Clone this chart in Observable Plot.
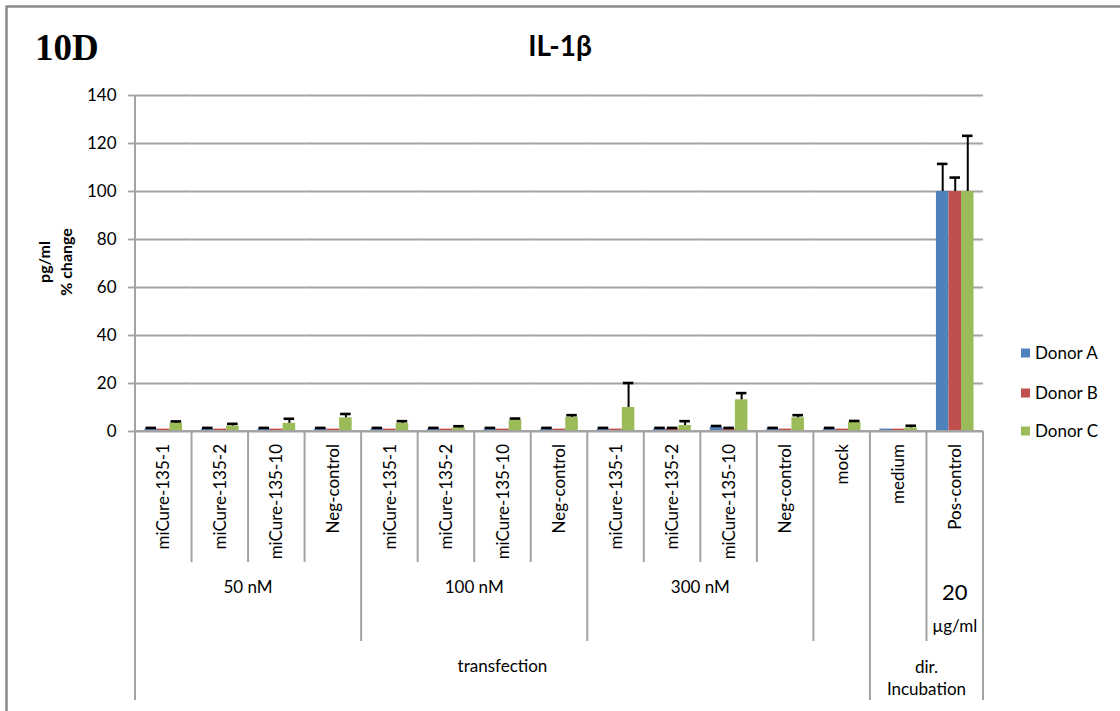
<!DOCTYPE html>
<html>
<head>
<meta charset="utf-8">
<script src="https://cdn.jsdelivr.net/npm/d3@7"></script>
<script src="https://cdn.jsdelivr.net/npm/@observablehq/plot@0.6"></script>
<style>
  html, body { margin: 0; padding: 0; background: white; }
  svg { display: block; }
</style>
</head>
<body>
<div id="chart"></div>
<script>
// ---- data ----
const categories = ["miCure-135-1","miCure-135-2","miCure-135-10","Neg-control",
                    "miCure-135-1","miCure-135-2","miCure-135-10","Neg-control",
                    "miCure-135-1","miCure-135-2","miCure-135-10","Neg-control",
                    "mock","medium","Pos-control"];
const level2 = ["50 nM","50 nM","50 nM","50 nM",
                "100 nM","100 nM","100 nM","100 nM",
                "300 nM","300 nM","300 nM","300 nM",
                "", "", "20\nµg/ml"];
const level3 = ["transfection","transfection","transfection","transfection",
                "transfection","transfection","transfection","transfection",
                "transfection","transfection","transfection","transfection",
                "transfection","dir.\nIncubation","dir.\nIncubation"];
const donors = ["Donor A","Donor B","Donor C"];
const donorColors = ["#4f81bd","#c0504d","#9bbb59"];
const donorA = [1,1,1,1, 1,1,1,1, 1,1,1.8,1, 1,1,100];
const errA   = [0.5,0.5,0.5,0.5, 0.5,0.5,0.5,0.5, 0.5,0.5,0.5,0.5, 0.5,0,11.5];
const donorB = [1,1,1,1, 1,1,1,1, 1,1,1,1, 1,1,100];
const errB   = [0,0,0,0, 0,0,0,0, 0,0.5,0.5,0, 0,0,5.8];
const donorC = [3.5,2.3,3.4,5.7, 3.4,1.5,4.8,5.9, 10,2.5,13.2,5.7, 3.8,1.5,100];
const errC   = [0.7,0.9,1.9,1.6, 0.9,0.7,0.6,0.9, 10.2,1.8,2.8,1.1, 0.6,0.9,23.2];
const yTicks = [0,20,40,60,80,100,120,140];

// ---- table ----
const ids = categories.map((_, i) => i);
const series = [[donorA, errA], [donorB, errB], [donorC, errC]];
const rows = [];
ids.forEach(i => donors.forEach((d, k) => {
  rows.push({i, donor: d, value: series[k][0][i], err: series[k][1][i], hi: series[k][0][i] + series[k][1][i]});
}));
const errRows = rows.filter(r => r.err > 0);

const FONT = "Lato, 'Noto Sans', 'DejaVu Sans', sans-serif";
const GRID = "#a3a3a3";

const plot = Plot.plot({
  width: 1120, height: 711,
  marginTop: 95, marginBottom: 280, marginLeft: 135, marginRight: 137,
  style: {fontFamily: FONT, fontSize: "17px", background: "white", overflow: "visible", color: "black"},
  fx: {domain: ids, padding: 0, round: false, axis: null},
  x: {domain: donors, paddingInner: 0, paddingOuter: 0.754, round: false, axis: null},
  y: {domain: [0, 140], axis: null},
  color: {domain: donors, range: donorColors},
  marks: [
    Plot.ruleY(yTicks, {stroke: GRID, strokeWidth: 1.8}),
    Plot.barY(rows, {fx: "i", x: "donor", y: "value", fill: "donor"}),
    Plot.ruleX(errRows, {fx: "i", x: "donor", y1: "value", y2: "hi", stroke: "black", strokeWidth: 2}),
    Plot.tickY(errRows, {fx: "i", x: "donor", y: "hi", stroke: "black", strokeWidth: 2.6, inset: 1}),
    Plot.axisY(yTicks, {tickSize: 7, tickPadding: 12, fontSize: 17, stroke: GRID, strokeWidth: 1.8, fill: "black", label: null, tickFormat: d => String(d)})
  ]
});
document.getElementById("chart").appendChild(plot);

// ---- decorations via the library's scales ----
const svg = d3.select(plot);
const fxScale = plot.scale("fx");
const yScale = plot.scale("y");
const bw = fxScale.bandwidth;
const bandStart = i => fxScale.apply(ids[i]);
const yBase = yScale.apply(0);
const yTop = yScale.apply(140);
const xLeft = bandStart(0), xRight = bandStart(ids.length - 1) + bw;
const depth1 = 562, depth2 = 641, depth3 = 700;

const g = svg.append("g").attr("font-family", FONT).attr("fill", "black");

// y axis line + x axis line
g.append("line").attr("x1", xLeft).attr("x2", xLeft).attr("y1", yTop).attr("y2", depth3)
  .attr("stroke", GRID).attr("stroke-width", 2);
g.append("line").attr("x1", xLeft).attr("x2", xRight).attr("y1", yBase).attr("y2", yBase)
  .attr("stroke", GRID).attr("stroke-width", 2);

// separators
for (let b = 0; b <= ids.length; b++) {
  const x = b === ids.length ? xRight : bandStart(b);
  let y2;
  if (b === 0 || b === ids.length || level3[b - 1] !== level3[b]) y2 = depth3;
  else if (level2[b - 1] !== level2[b]) y2 = depth2;
  else y2 = depth1;
  g.append("line").attr("x1", x).attr("x2", x).attr("y1", yBase).attr("y2", y2)
    .attr("stroke", GRID).attr("stroke-width", 2);
}

// level 1 labels
ids.forEach(i => {
  const cx = bandStart(i) + bw / 2;
  g.append("text").attr("transform", `translate(${cx},${yBase + 13}) rotate(-90)`)
    .attr("text-anchor", "end").attr("dy", "0.36em").attr("font-size", 17)
    .text(categories[i]);
});

// runs helper
function runs(arr) {
  const out = [];
  let s = 0;
  for (let i = 1; i <= arr.length; i++) {
    if (i === arr.length || arr[i] !== arr[s]) { out.push({label: arr[s], a: s, b: i - 1}); s = i; }
  }
  return out;
}
// level 2 labels
runs(level2).forEach(r => {
  if (!r.label) return;
  const cx = (bandStart(r.a) + bandStart(r.b) + bw) / 2;
  const lines = r.label.split("\n");
  if (lines.length === 1) {
    g.append("text").attr("x", cx).attr("y", 587).attr("dy", "0.36em")
      .attr("text-anchor", "middle").attr("font-size", 17).text(lines[0]);
  } else {
    g.append("text").attr("x", cx).attr("y", 592).attr("dy", "0.36em")
      .attr("text-anchor", "middle").attr("font-size", 22).text(lines[0]);
    g.append("text").attr("x", cx).attr("y", 626).attr("dy", "0.36em")
      .attr("text-anchor", "middle").attr("font-size", 17).text(lines[1]);
  }
});
// level 3 labels
runs(level3).forEach(r => {
  const cx = (bandStart(r.a) + bandStart(r.b) + bw) / 2;
  const lines = r.label.split("\n");
  const y0 = lines.length === 1 ? 666 : 667;
  lines.forEach((t, k) => {
    g.append("text").attr("x", cx).attr("y", y0 + k * 22).attr("dy", "0.36em")
      .attr("text-anchor", "middle").attr("font-size", 17).text(t);
  });
});

// y axis label
const yl = g.append("text").attr("transform", "translate(0,262) rotate(-90)")
  .attr("text-anchor", "middle").attr("font-weight", "bold").attr("font-size", 16);
yl.append("tspan").attr("x", 0).attr("y", 44).attr("dy", "0.36em").text("pg/ml");
yl.append("tspan").attr("x", 0).attr("y", 66).attr("dy", "0.36em").text("% change");

// title + panel tag
g.append("text").attr("x", 560).attr("y", 56).attr("text-anchor", "middle")
  .attr("font-weight", "bold").attr("font-size", 28).text("IL-1β");
g.append("text").attr("x", 35).attr("y", 60).attr("text-anchor", "start")
  .attr("font-family", "'Liberation Serif', 'Times New Roman', serif")
  .attr("font-weight", "bold").attr("font-size", 37).text("10D");

// legend
const colorScale = plot.scale("color");
const legendY = [353, 393, 431];
donors.forEach((d, k) => {
  g.append("rect").attr("x", 1021).attr("y", legendY[k] - 4.5).attr("width", 9).attr("height", 9)
    .attr("fill", colorScale.apply(d));
  g.append("text").attr("x", 1035).attr("y", legendY[k]).attr("dy", "0.36em")
    .attr("text-anchor", "start").attr("font-size", 17).text(d);
});

// outer border
g.append("path").attr("d", "M6.5,711 V6.5 H1120").attr("fill", "none")
  .attr("stroke", "#8a8a8a").attr("stroke-width", 2.5);
</script>
</body>
</html>
